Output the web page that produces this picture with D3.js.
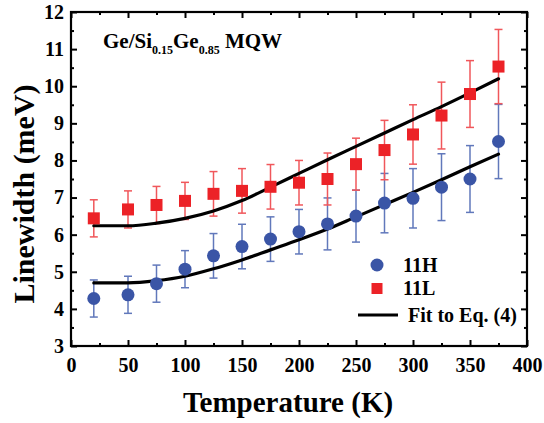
<!DOCTYPE html>
<html>
<head>
<meta charset="utf-8">
<script src="https://cdn.jsdelivr.net/npm/d3@7"></script>
<style>
  html, body { margin: 0; padding: 0; background: #fff; }
  svg text { font-family: "Liberation Serif", "Times New Roman", Tinos, Times, "DejaVu Serif", serif !important; font-weight: bold; }
</style>
</head>
<body>
<svg id="chart" width="544" height="423"></svg>
<script>
// ---- data ----
const temps = [20, 50, 75, 100, 125, 150, 175, 200, 225, 250, 275, 300, 325, 350, 375];
const h11 = [4.28, 4.38, 4.68, 5.07, 5.43, 5.68, 5.88, 6.08, 6.29, 6.50, 6.85, 6.98, 7.28, 7.50, 8.51];
const h11Err = [0.5, 0.5, 0.5, 0.5, 0.6, 0.6, 0.6, 0.6, 0.7, 0.7, 0.8, 0.8, 0.9, 0.9, 1.0];
const l11 = [6.44, 6.68, 6.80, 6.91, 7.10, 7.18, 7.29, 7.40, 7.50, 7.90, 8.28, 8.70, 9.21, 9.79, 10.53];
const l11Err = [0.5, 0.5, 0.5, 0.5, 0.6, 0.6, 0.6, 0.6, 0.7, 0.7, 0.8, 0.8, 0.9, 0.9, 1.0];
const fitH = [4.70, 4.70, 4.76, 4.88, 5.08, 5.32, 5.59, 5.86, 6.15, 6.48, 6.81, 7.14, 7.48, 7.83, 8.17];
const fitL = [6.24, 6.24, 6.31, 6.44, 6.64, 6.92, 7.28, 7.65, 8.02, 8.38, 8.74, 9.10, 9.45, 9.82, 10.20];
const xMajor = [0, 50, 100, 150, 200, 250, 300, 350, 400];
const xMinor = [25, 75, 125, 175, 225, 275, 325, 375];
const yMajor = [3, 4, 5, 6, 7, 8, 9, 10, 11, 12];
const yMinor = [3.5, 4.5, 5.5, 6.5, 7.5, 8.5, 9.5, 10.5, 11.5];
const legendLabels = ["11H", "11L", "Fit to Eq. (4)"];

const BLUE = "#3a55a6", BLUE_ERR = "#6178bb";
const RED = "#ec2227", RED_ERR = "#f0575b";
const FONT = "'Liberation Serif', 'Times New Roman', Tinos, Times, 'DejaVu Serif', serif";

const svg = d3.select("#chart");
const L = 71, R = 527, T = 12, B = 346;
const x = d3.scaleLinear().domain([0, 400]).range([L, R]);
const y = d3.scaleLinear().domain([3, 12]).range([B, T]);

// ---- axes ----
function styleAxis(g) {
  g.attr("font-family", FONT).attr("font-size", 20).attr("font-weight", "bold");
  g.select(".domain").remove();
  g.selectAll(".tick line").attr("stroke", "#000").attr("stroke-width", 2);
  g.selectAll("text").attr("fill", "#000");
}
svg.append("g").attr("transform", `translate(0,${B})`)
  .call(d3.axisBottom(x).tickValues(xMajor).tickSize(-6).tickPadding(12).tickFormat(d3.format("d")))
  .call(styleAxis);
svg.append("g").attr("transform", `translate(0,${B})`)
  .call(d3.axisBottom(x).tickValues(xMinor).tickSize(-3).tickFormat(""))
  .call(styleAxis);
svg.append("g").attr("transform", `translate(0,${T})`)
  .call(d3.axisTop(x).tickValues(xMajor).tickSize(-6).tickFormat(""))
  .call(styleAxis);
svg.append("g").attr("transform", `translate(0,${T})`)
  .call(d3.axisTop(x).tickValues(xMinor).tickSize(-3).tickFormat(""))
  .call(styleAxis);
svg.append("g").attr("transform", `translate(${L},0)`)
  .call(d3.axisLeft(y).tickValues(yMajor).tickSize(-6).tickPadding(7).tickFormat(d3.format("d")))
  .call(styleAxis);
svg.append("g").attr("transform", `translate(${L},0)`)
  .call(d3.axisLeft(y).tickValues(yMinor).tickSize(-3).tickFormat(""))
  .call(styleAxis);
svg.append("g").attr("transform", `translate(${R},0)`)
  .call(d3.axisRight(y).tickValues(yMajor).tickSize(-6).tickFormat(""))
  .call(styleAxis);
svg.append("g").attr("transform", `translate(${R},0)`)
  .call(d3.axisRight(y).tickValues(yMinor).tickSize(-3).tickFormat(""))
  .call(styleAxis);

svg.append("rect").attr("x", L).attr("y", T).attr("width", R - L).attr("height", B - T)
  .attr("fill", "none").attr("stroke", "#000").attr("stroke-width", 2.2);

const txt = (sel) => sel.attr("font-family", FONT).attr("font-weight", "bold").attr("fill", "#000");

// ---- axis titles ----
svg.append("text").call(txt).attr("x", 288).attr("y", 412).attr("text-anchor", "middle")
  .attr("font-size", 29).text("Temperature (K)");
svg.append("text").call(txt).attr("transform", "translate(34,194) rotate(-90)").attr("text-anchor", "middle")
  .attr("font-size", 30).text("Linewidth (meV)");

// ---- annotation ----
const ann = svg.append("text").call(txt).attr("x", 103).attr("y", 48).attr("font-size", 21);
ann.append("tspan").text("Ge/Si");
ann.append("tspan").attr("dy", 6).attr("font-size", 12).text("0.15");
ann.append("tspan").attr("dy", -6).text("Ge");
ann.append("tspan").attr("dy", 6).attr("font-size", 12).text("0.85");
ann.append("tspan").attr("dy", -6).text(" MQW");

// ---- error bars ----
function errBars(vals, errs, color) {
  const g = svg.append("g").attr("stroke", color).attr("stroke-width", 1.5).attr("fill", "none");
  temps.forEach((t, i) => {
    const cx = x(t), y1 = y(vals[i] - errs[i]), y2 = y(vals[i] + errs[i]);
    g.append("line").attr("x1", cx).attr("x2", cx).attr("y1", y1).attr("y2", y2);
    g.append("line").attr("x1", cx - 4).attr("x2", cx + 4).attr("y1", y1).attr("y2", y1);
    g.append("line").attr("x1", cx - 4).attr("x2", cx + 4).attr("y1", y2).attr("y2", y2);
  });
}
errBars(h11, h11Err, BLUE_ERR);
errBars(l11, l11Err, RED_ERR);

// ---- fit lines ----
const line = d3.line().x((d, i) => x(temps[i])).y(d => y(d)).curve(d3.curveMonotoneX);
[fitH, fitL].forEach(f => {
  svg.append("path").attr("d", line(f)).attr("fill", "none").attr("stroke", "#000")
    .attr("stroke-width", 3.2).attr("stroke-linecap", "round");
});

// ---- markers ----
svg.append("g").selectAll("circle").data(h11).join("circle")
  .attr("cx", (d, i) => x(temps[i])).attr("cy", d => y(d)).attr("r", 6.5).attr("fill", BLUE);
svg.append("g").selectAll("rect").data(l11).join("rect")
  .attr("x", (d, i) => x(temps[i]) - 6).attr("y", d => y(d) - 6)
  .attr("width", 12).attr("height", 12).attr("fill", RED);

// ---- legend ----
const lg = svg.append("g");
lg.append("circle").attr("cx", 377).attr("cy", 265).attr("r", 6.5).attr("fill", BLUE);
lg.append("rect").attr("x", 371.5).attr("y", 283).attr("width", 11).attr("height", 11).attr("fill", RED);
lg.append("line").attr("x1", 358).attr("x2", 398).attr("y1", 315).attr("y2", 315)
  .attr("stroke", "#000").attr("stroke-width", 3.2);
lg.append("text").call(txt).attr("x", 403).attr("y", 272).attr("font-size", 20).text(legendLabels[0]);
lg.append("text").call(txt).attr("x", 403).attr("y", 295).attr("font-size", 20).text(legendLabels[1]);
lg.append("text").call(txt).attr("x", 408).attr("y", 322).attr("font-size", 20).text(legendLabels[2]);
</script>
</body>
</html>
